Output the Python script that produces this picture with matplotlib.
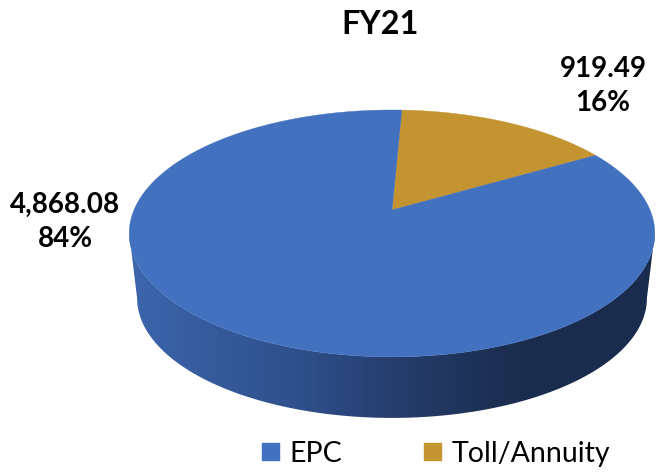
import numpy as np
import matplotlib
matplotlib.use("Agg")
import matplotlib.pyplot as plt
from matplotlib.colors import LinearSegmentedColormap
from matplotlib.patches import Polygon

categories = ["EPC", "Toll/Annuity"]
values = [4868.08, 919.49]
percents = [84, 16]
title = "FY21"

colors = {"EPC": "#4271C0", "Toll/Annuity": "#C49431"}
plt.rcParams["font.family"] = ["Lato", "DejaVu Sans"]

# perspective of the disc, in pixels
cx, cy = 392, 210
a, b, k = 258, 119, 0.19
start = 87.4


def project(t, scale=1.0, dy=0.0):
    u, v = np.cos(t), np.sin(t)
    w = 1 + k * v
    return cx + scale * a * u / w, cy + dy - scale * b * v / w


fig = plt.figure(figsize=(6.56, 4.72), dpi=100)
ax = fig.add_axes([0, 0, 1, 1])

# side wall, horizontal gradient clipped to the band under the disc
wall = LinearSegmentedColormap.from_list("wall", [
    (0.00, "#3D66AD"), (0.12, "#375D9F"), (0.32, "#2F508C"), (0.50, "#253E6E"),
    (0.65, "#1F3358"), (0.75, "#1A2C4E"), (1.00, "#1A2C4E")])
im = ax.imshow(np.linspace(0, 1, 256)[None, :], cmap=wall, extent=(129, 655, 430, 100),
               aspect="auto", zorder=1)
ax.set_xlim(0, 656)
ax.set_ylim(472, 0)
ax.axis("off")

tilt = np.arcsin(k)
low = np.linspace(np.pi + tilt, 2 * np.pi - tilt, 300)
lx, ly = project(low, 0.97, 65.4)
ux, uy = project(low[::-1])
clip = Polygon(np.c_[np.r_[lx, ux], np.r_[ly, uy]], transform=ax.transData, visible=False)
ax.add_patch(clip)
im.set_clip_path(clip)

# top face
angle = np.deg2rad(start)
handles = {}
for name, val in zip(categories[::-1], values[::-1]):
    sweep = 2 * np.pi * val / sum(values)
    tt = np.linspace(angle, angle - sweep, 300)
    x, y = project(tt)
    handles[name] = ax.fill(np.r_[cx, x], np.r_[cy, y], color=colors[name], lw=0.3, zorder=2, label=name)[0]
    angle -= sweep

ax.text(380, 25, title, ha="center", va="center", fontsize=23.5, fontweight="bold", color="black")
ax.text(65, 222, f"{values[0]:,.2f}\n{percents[0]}%", ha="center", va="center", fontsize=20,
        fontweight="bold", linespacing=1.4)
ax.text(603, 86, f"{values[1]:,.2f}\n{percents[1]}%", ha="center", va="center", fontsize=20,
        fontweight="bold", linespacing=1.4)

ax.legend([handles[c] for c in categories], categories, loc="center", bbox_to_anchor=(436 / 656, 1 - 454 / 472),
          ncol=2, frameon=False, fontsize=20.5, handlelength=0.63, handleheight=0.63,
          handletextpad=0.32, columnspacing=2.9, borderpad=0)

fig.savefig("out.png", dpi=100)
